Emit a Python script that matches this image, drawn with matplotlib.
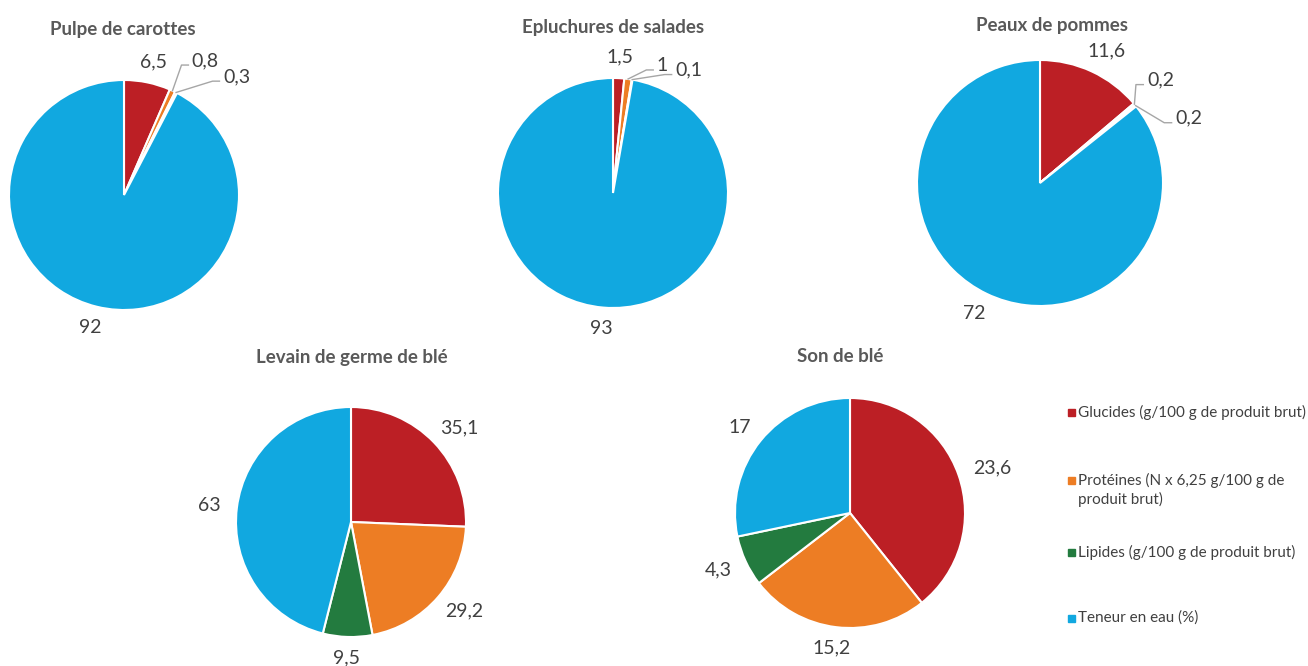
import numpy as np
import matplotlib.pyplot as plt
from matplotlib.patches import Rectangle

W, H = 1308, 666

# ── data ─────────────────────────────────────────
titres = ['Pulpe de carottes', 'Epluchures de salades', 'Peaux de pommes',
          'Levain de germe de blé', 'Son de blé']
glucides = [6.5, 1.5, 11.6, 35.1, 23.6]
proteines = [0.8, 1, 0.2, 29.2, 15.2]
lipides = [0.3, 0.1, 0.2, 9.5, 4.3]
eau = [92, 93, 72, 63, 17]
legende = ['Glucides (g/100 g de produit brut)',
           'Protéines (N x 6,25 g/100 g de\nproduit brut)',
           'Lipides (g/100 g de produit brut)',
           'Teneur en eau (%)']
couleurs = ['#BC1F25', '#ED7D24', '#237B3F', '#11A8E0']

# ── layout (pixels): pie centre x, centre y, radius, title x, title y ──
layout = [(124, 195, 115, 123, 30), (613, 193, 115, 613, 28),
          (1040, 183, 123, 1052, 25), (351, 522, 115, 352, 357),
          (850, 513, 115, 840, 357)]
# text positions for tiny slices with leader lines (radius units)
leaders = {(0, 1): (0.59, 1.17), (0, 2): (0.86, 1.03),
           (1, 1): (0.38, 1.11), (1, 2): (0.54, 1.07),
           (2, 1): (0.87, 0.84), (2, 2): (1.10, 0.53)}
legend_rows = [412, 480, 552, 618]

plt.rcParams['font.family'] = ['Lato', 'DejaVu Sans']
fig = plt.figure(figsize=(W / 100, H / 100), dpi=100)
K = 1.6
fmt = lambda v: f'{v:g}'.replace('.', ',')
lab_kw = dict(fontsize=14, color='#404040')

to_shift = []
for i, (cx, cy, r, tx, ty) in enumerate(layout):
    s = r * K
    ax = fig.add_axes([(cx - s) / W, (H - cy - s) / H, 2 * s / W, 2 * s / H])
    vals = [glucides[i], proteines[i], lipides[i], eau[i]]
    wedges, _ = ax.pie(vals, colors=couleurs, startangle=90, counterclock=False,
                       wedgeprops=dict(edgecolor='white', linewidth=1.5))
    ax.set_xlim(-K, K); ax.set_ylim(-K, K)
    ax.set_aspect('equal'); ax.axis('off')
    fig.text(tx / W, 1 - ty / H, titres[i], ha='center', va='center',
             fontsize=13.5, fontweight='bold', color='#595959')
    for j, (w, v) in enumerate(zip(wedges, vals)):
        a = np.deg2rad((w.theta1 + w.theta2) / 2)
        dx, dy = np.cos(a), np.sin(a)
        if (i, j) in leaders:
            lx, ly = leaders[(i, j)]
            ax.plot([dx, lx - 0.09, lx - 0.03], [dy, ly - 0.04, ly - 0.04],
                    color='#A6A6A6', lw=1)
            ax.text(lx, ly, fmt(v), ha='left', va='center', **lab_kw)
        else:
            t = ax.text(1.14 * dx, 1.14 * dy, fmt(v), ha='center', va='center', **lab_kw)
            to_shift.append((ax, t, dx, dy))

# push labels outward by half their box, like Excel's best fit
fig.canvas.draw()
rend = fig.canvas.get_renderer()
for ax, t, dx, dy in to_shift:
    bb = t.get_window_extent(rend)
    px, py = ax.transData.transform(t.get_position())
    t.set_position(ax.transData.inverted().transform(
        (px + dx * bb.width / 2, py + dy * bb.height * 0.3)))

# legend drawn by hand, Excel spacing
for lab, col, ry in zip(legende, couleurs, legend_rows):
    nl = lab.count('\n')
    fig.add_artist(Rectangle(((1068) / W, 1 - (ry + 3.5) / H), 7 / W, 7 / H,
                             transform=fig.transFigure, color=col))
    fig.text(1078 / W, 1 - (ry + 10 * nl) / H, lab, ha='left', va='center',
             fontsize=11, color='#404040', linespacing=1.3)

fig.savefig('out.png', dpi=100, facecolor='white')
